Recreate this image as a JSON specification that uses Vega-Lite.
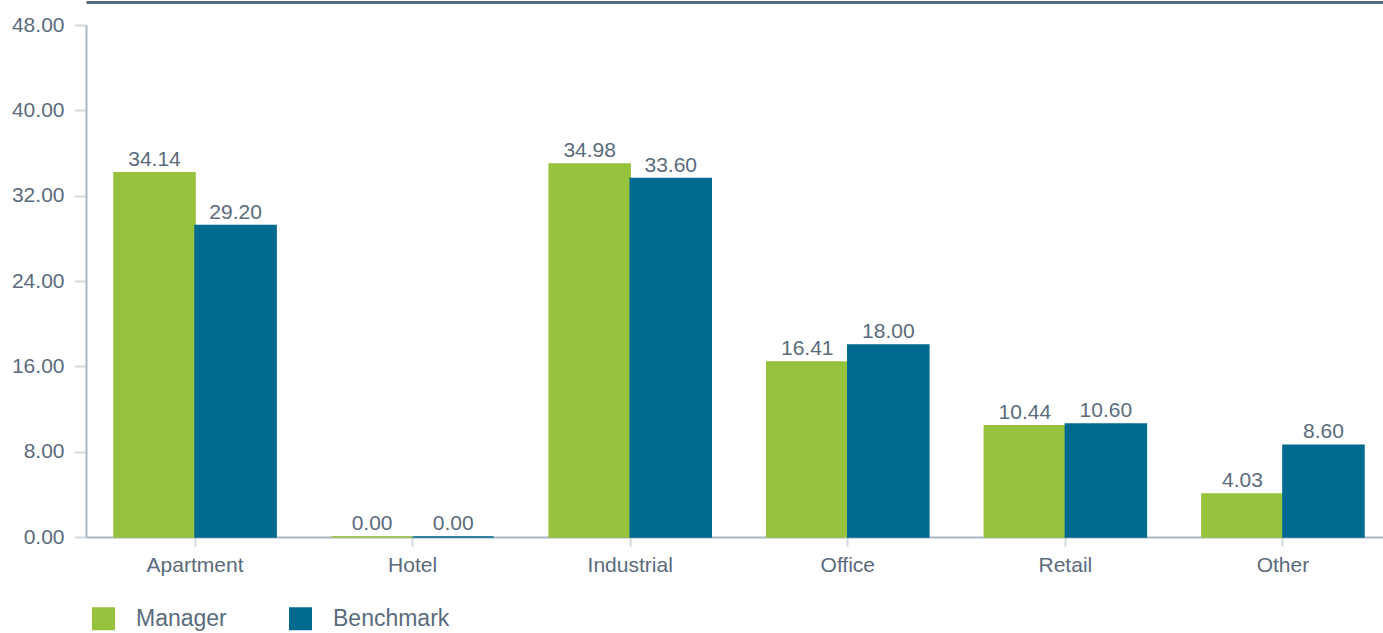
{
  "$schema": "https://vega.github.io/schema/vega-lite/v6.json",
  "autosize": "none",
  "width": 1306,
  "height": 512,
  "padding": {"left": 86, "top": 25, "right": 0, "bottom": 96},
  "background": "white",
  "config": {
    "view": {"stroke": null},
    "font": "Liberation Sans",
    "axis": {"labelFont": "Liberation Sans", "labelColor": "#5a6b7c", "labelFontSize": 21, "title": null}
  },
  "data": {
    "values": [
      {"type": "Apartment", "series": "Manager", "value": 34.14},
      {"type": "Apartment", "series": "Benchmark", "value": 29.20},
      {"type": "Hotel", "series": "Manager", "value": 0.00},
      {"type": "Hotel", "series": "Benchmark", "value": 0.00},
      {"type": "Industrial", "series": "Manager", "value": 34.98},
      {"type": "Industrial", "series": "Benchmark", "value": 33.60},
      {"type": "Office", "series": "Manager", "value": 16.41},
      {"type": "Office", "series": "Benchmark", "value": 18.00},
      {"type": "Retail", "series": "Manager", "value": 10.44},
      {"type": "Retail", "series": "Benchmark", "value": 10.60},
      {"type": "Other", "series": "Manager", "value": 4.03},
      {"type": "Other", "series": "Benchmark", "value": 8.60}
    ]
  },
  "encoding": {
    "xOffset": {"field": "series", "type": "nominal", "sort": ["Manager", "Benchmark"], "scale": {"paddingInner": 0, "paddingOuter": 0}},
    "y": {
      "field": "value", "type": "quantitative",
      "scale": {"domain": [0, 48], "nice": false},
      "axis": {"values": [0, 8, 16, 24, 32, 40, 48], "format": ".2f", "grid": false, "domainColor": "#aab7c4", "domainWidth": 2, "tickColor": "#d3d9df", "tickSize": 12, "tickWidth": 2, "labelPadding": 10}
    }
  },
  "resolve": {"axis": {"x": "independent"}},
  "layer": [
    {
      "mark": {"type": "bar", "strokeWidth": 1.5},
      "encoding": {
        "x": {
          "field": "type", "type": "nominal",
          "sort": ["Apartment", "Hotel", "Industrial", "Office", "Retail", "Other"],
          "scale": {"paddingInner": 0.255, "paddingOuter": 0.1287},
          "axis": {"labelAngle": 0, "domainColor": "#aab7c4", "domainWidth": 2, "tickColor": "#d3d9df", "tickSize": 9, "tickWidth": 2, "labelPadding": 8}
        },
        "color": {
          "field": "series", "type": "nominal",
          "sort": ["Manager", "Benchmark"],
          "scale": {"domain": ["Manager", "Benchmark"], "range": ["#97c23d", "#006a8f"]},
          "legend": {
            "title": null, "orient": "none", "legendX": 6, "legendY": 582, "direction": "horizontal",
            "symbolType": "square", "symbolSize": 529, "symbolStrokeWidth": 0, "symbolOpacity": 1,
            "labelFontSize": 23, "labelColor": "#5a6b7c", "labelFont": "Liberation Sans", "labelOffset": 21, "columnPadding": 62
          }
        },
        "stroke": {"field": "series", "type": "nominal", "scale": {"domain": ["Manager", "Benchmark"], "range": ["#97c23d", "#006a8f"]}, "legend": null}
      }
    },
    {
      "mark": {"type": "text", "baseline": "alphabetic", "dy": -7, "fontSize": 21, "color": "#5a6b7c", "font": "Liberation Sans"},
      "encoding": {
        "x": {
          "field": "type", "type": "nominal",
          "sort": ["Apartment", "Hotel", "Industrial", "Office", "Retail", "Other"],
          "axis": {"orient": "top", "labels": false, "ticks": false, "domainColor": "#56687a", "domainWidth": 3, "offset": 23}
        },
        "text": {"field": "value", "type": "quantitative", "format": ".2f"}
      }
    }
  ]
}
